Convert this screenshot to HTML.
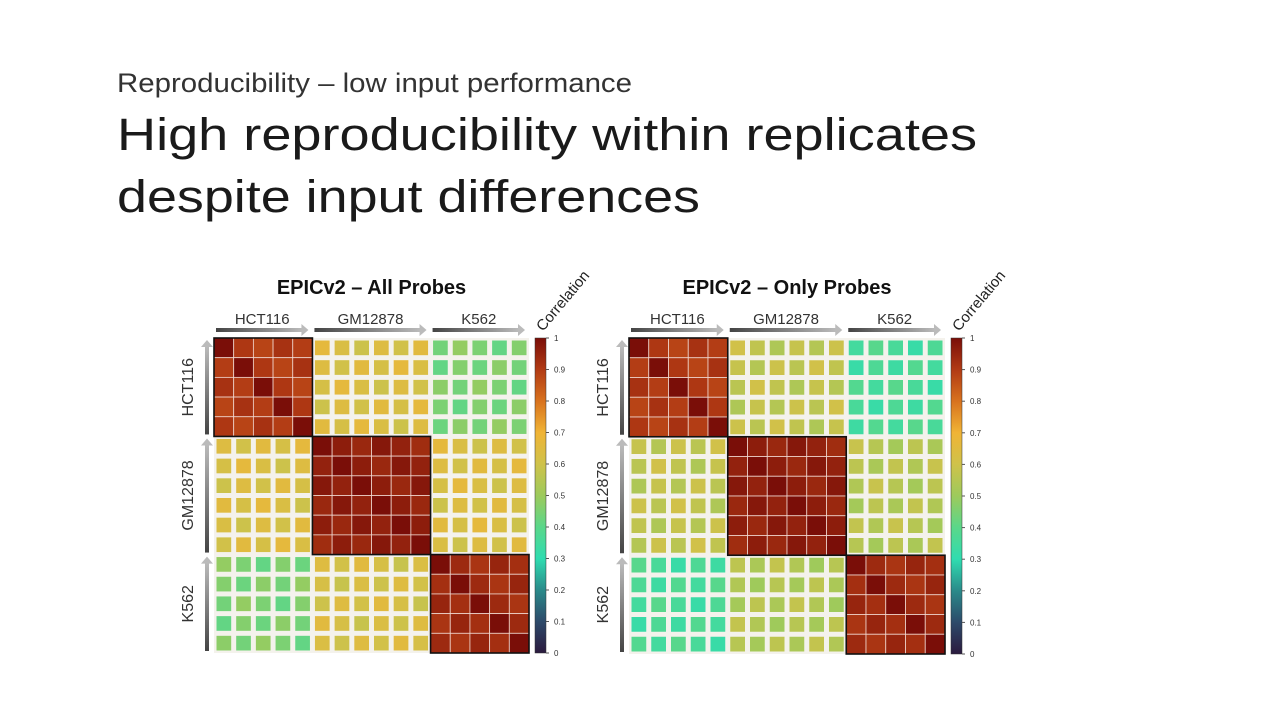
<!DOCTYPE html>
<html><head><meta charset="utf-8"><style>
html,body{margin:0;padding:0;background:#fff;width:1280px;height:720px;overflow:hidden}
svg{display:block}
</style></head><body>
<svg id="s" width="1280" height="720" xmlns="http://www.w3.org/2000/svg" font-family="Liberation Sans, sans-serif">
<defs>
<linearGradient id="cb" x1="0" y1="1" x2="0" y2="0">
<stop offset="0" stop-color="#2b1a3e"/>
<stop offset="0.1" stop-color="#2d4a6a"/>
<stop offset="0.2" stop-color="#2a8a8a"/>
<stop offset="0.3" stop-color="#2fdcb0"/>
<stop offset="0.4" stop-color="#5ad78a"/>
<stop offset="0.5" stop-color="#9dca5c"/>
<stop offset="0.6" stop-color="#cfc24a"/>
<stop offset="0.7" stop-color="#f0b436"/>
<stop offset="0.8" stop-color="#d8721e"/>
<stop offset="0.9" stop-color="#b13a14"/>
<stop offset="1" stop-color="#7a0e08"/>
</linearGradient>
<linearGradient id="ah" x1="0" x2="1"><stop offset="0" stop-color="#444"/><stop offset="1" stop-color="#bbb"/></linearGradient>
<linearGradient id="av" x1="0" y1="1" x2="0" y2="0"><stop offset="0" stop-color="#444"/><stop offset="1" stop-color="#bbb"/></linearGradient>
</defs>
<text x="117" y="92" font-size="27" font-weight="300" fill="#333" textLength="515" lengthAdjust="spacingAndGlyphs">Reproducibility – low input performance</text>
<text x="117" y="150" font-size="45" fill="#1a1a1a" textLength="860" lengthAdjust="spacingAndGlyphs">High reproducibility within replicates</text>
<text x="117" y="212" font-size="45" fill="#1a1a1a" textLength="583" lengthAdjust="spacingAndGlyphs">despite input differences</text>
<g id="g"></g>
</svg>
<script>
var stops=[[0,[43,26,62]],[0.1,[45,74,106]],[0.2,[42,138,138]],[0.3,[47,220,176]],[0.4,[90,215,138]],[0.5,[157,202,92]],[0.6,[207,194,74]],[0.7,[240,180,54]],[0.8,[216,114,30]],[0.9,[177,58,20]],[1,[122,14,8]]];
function col(v){for(var i=1;i<stops.length;i++){if(v<=stops[i][0]){var a=stops[i-1],b=stops[i],t=(v-a[0])/(b[0]-a[0]);return 'rgb('+[0,1,2].map(function(k){return Math.round(a[1][k]+(b[1][k]-a[1][k])*t)}).join(',')+')';}}return 'rgb(122,14,8)';}
var grp=[0,0,0,0,0,1,1,1,1,1,1,2,2,2,2,2];
var g=document.getElementById('g'),h='';
function heat(x0,y0,W,title,M,cbx){
 var c=W/16;
 h+='<text x="'+(x0+W/2)+'" y="294" font-size="20" font-weight="bold" text-anchor="middle" fill="#111">'+title+'</text>';
 var starts=[0,5,11,16],names=['HCT116','GM12878','K562'];
 for(var k=0;k<3;k++){var a=x0+starts[k]*c+2,b=x0+starts[k+1]*c-4;
  h+='<rect x="'+a+'" y="328" width="'+(b-a-6)+'" height="4" fill="url(#ah)"/><polygon points="'+(b-7)+',324 '+b+',330 '+(b-7)+',336" fill="#bbb"/>';
  h+='<text x="'+((a+b)/2)+'" y="324" font-size="15" text-anchor="middle" fill="#333">'+names[k]+'</text>';
  var ya=y0+starts[k+1]*c-2,yb=y0+starts[k]*c+2;
  h+='<rect x="'+(x0-9)+'" y="'+(yb+6)+'" width="4" height="'+(ya-yb-6)+'" fill="url(#av)"/><polygon points="'+(x0-13)+','+(yb+7)+' '+(x0-7)+','+yb+' '+(x0-1)+','+(yb+7)+'" fill="#bbb"/>';
  var cy=(ya+yb)/2;h+='<text transform="translate('+(x0-21)+','+cy+') rotate(-90)" font-size="16" text-anchor="middle" fill="#333">'+names[k]+'</text>';
 }
 h+='<rect x="'+x0+'" y="'+y0+'" width="'+W+'" height="'+W+'" fill="#f4f2ec"/>';
 for(var i=0;i<16;i++)for(var j=0;j<16;j++){
  var gi=grp[i],gj=grp[j],v=M[gi][gj];
  if(gi==gj){v=(i==j)?1.0:v+((i*7+j*3)%5)*0.012;h+='<rect x="'+(x0+j*c)+'" y="'+(y0+i*c)+'" width="'+c+'" height="'+c+'" fill="'+col(Math.min(v,1))+'" stroke="#f0d8d0" stroke-width="0.8"/>';}
  else{v=v+(((i*5+j*11)%7)-3)*0.012;h+='<rect x="'+(x0+j*c+2.5)+'" y="'+(y0+i*c+2.5)+'" width="'+(c-5)+'" height="'+(c-5)+'" fill="'+col(v)+'"/>';}
 }
 for(var k=0;k<3;k++){var a=x0+starts[k]*c,s=(starts[k+1]-starts[k])*c;h+='<rect x="'+a+'" y="'+(y0+starts[k]*c)+'" width="'+s+'" height="'+s+'" fill="none" stroke="#111" stroke-width="1.6"/>';}
 h+='<rect x="'+cbx+'" y="'+y0+'" width="11" height="'+W+'" fill="url(#cb)" stroke="#333" stroke-width="0.5"/>';
 for(var t=0;t<=10;t++){var yy=y0+W-W*t/10;h+='<line x1="'+(cbx+11)+'" x2="'+(cbx+14)+'" y1="'+yy+'" y2="'+yy+'" stroke="#555"/><text x="'+(cbx+19)+'" y="'+(yy+3)+'" font-size="8" fill="#333">'+(t==0?'0':t==10?'1':(t/10).toFixed(1))+'</text>';}
 h+='<text transform="translate('+(cbx+8)+',332) rotate(-50)" font-size="15" fill="#222">Correlation</text>';
}
heat(214,338,315,'EPICv2 – All Probes',[[0.87,0.63,0.45],[0.63,0.93,0.63],[0.45,0.62,0.9]],535);
heat(629,338,316,'EPICv2 – Only Probes',[[0.87,0.57,0.36],[0.57,0.93,0.55],[0.36,0.54,0.9]],951);
g.innerHTML=h;
</script>
</body></html>
